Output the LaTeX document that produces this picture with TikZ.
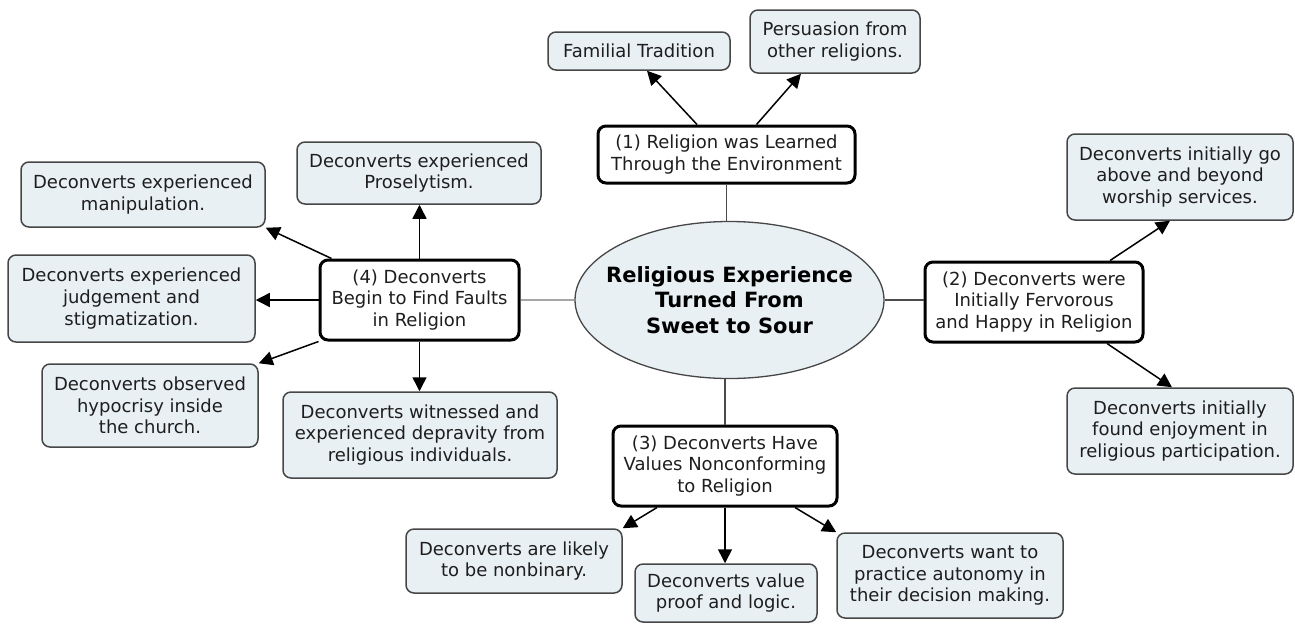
\documentclass[tikz,border=0pt]{standalone}
\usepackage{fontspec}
\setmainfont{DejaVu Sans}
\usetikzlibrary{arrows.meta,shapes.geometric}
\definecolor{boxfill}{RGB}{232,240,244}
\definecolor{boxline}{RGB}{70,70,70}
\definecolor{txt}{RGB}{30,30,30}
\definecolor{linkgray}{RGB}{75,75,75}
\tikzset{
  leaf/.style={draw=boxline, line width=1.5pt, fill=boxfill, rounded corners=8pt,
    align=center, inner sep=0pt, text=txt, font=\fontsize{18}{21.7}\selectfont},
  topic/.style={draw=black, line width=3pt, fill=white, rounded corners=8pt,
    align=center, inner sep=0pt, text=txt, font=\fontsize{18}{21.7}\selectfont},
  core/.style={ellipse, draw=boxline, line width=1.3pt, fill=boxfill, inner sep=0pt,
    minimum width=309pt, minimum height=157pt},
  coretext/.style={align=center, text=black, inner sep=0pt,
    font=\fontsize{21}{25.5}\selectfont\bfseries},
  arr/.style={line width=1.5pt, draw=black, -{Triangle[length=14pt,width=14pt]}},
  link/.style={line width=1.5pt, draw=linkgray},
}
\begin{document}
\begin{tikzpicture}[x=1pt,y=-1pt]
\useasboundingbox (0,0) rectangle (1295,625);
% centre
\node[core] (ell) at (729.5,300) {};
\node[coretext] (elltxt) at (ell.center) {Religious Experience\\Turned From\\Sweet to Sour};
% (1)
\node[topic, minimum width=257pt, minimum height=57pt] (b1) at (726.5,154.5) {(1) Religion was Learned\\Through the Environment};
\node[leaf, minimum width=182pt, minimum height=38pt] (fam) at (639,51) {Familial Tradition};
\node[leaf, minimum width=170pt, minimum height=63pt] (pers) at (835,41.5) {Persuasion from\\other religions.};
% (2)
\node[topic, minimum width=218pt, minimum height=80pt] (b2) at (1034,302) {(2) Deconverts were\\Initially Fervorous\\and Happy in Religion};
\node[leaf, minimum width=226pt, minimum height=86pt] (above) at (1180,177) {Deconverts initially go\\above and beyond\\worship services.};
\node[leaf, minimum width=226pt, minimum height=86pt] (enjoy) at (1180,431) {Deconverts initially\\found enjoyment in\\religious participation.};
% (3)
\node[topic, minimum width=224pt, minimum height=80pt] (b3) at (725,466) {(3) Deconverts Have\\Values Nonconforming\\to Religion};
\node[leaf, minimum width=216pt, minimum height=64pt] (nonb) at (514,561) {Deconverts are likely\\to be nonbinary.};
\node[leaf, minimum width=182pt, minimum height=58pt] (proof) at (726,593) {Deconverts value\\proof and logic.};
\node[leaf, minimum width=226pt, minimum height=85pt] (auto) at (950,575.5) {Deconverts want to\\practice autonomy in\\their decision making.};
% (4)
\node[topic, minimum width=199pt, minimum height=80pt] (b4) at (419.5,300) {(4) Deconverts\\Begin to Find Faults\\in Religion};
\node[leaf, minimum width=244pt, minimum height=62pt] (pros) at (419,173) {Deconverts experienced\\Proselytism.};
\node[leaf, minimum width=244pt, minimum height=65pt] (man) at (143,194.5) {Deconverts experienced\\manipulation.};
\node[leaf, minimum width=247pt, minimum height=87pt] (judg) at (131.5,298.5) {Deconverts experienced\\judgement and\\stigmatization.};
\node[leaf, minimum width=216pt, minimum height=83pt] (hyp) at (150,405.5) {Deconverts observed\\hypocrisy inside\\the church.};
\node[leaf, minimum width=274pt, minimum height=86pt] (dep) at (420,435) {Deconverts witnessed and\\experienced depravity from\\religious individuals.};
% links from centre
\draw[link] (b1.south) -- (b1.south |- ell.north);
\draw[link] (ell.east) -- (ell.east -| b2.west);
\draw[link] (b3.north) -- (b3.north |- ell.south);
\draw[link, draw=gray!70] (ell.west) -- (ell.west -| b4.east);
% arrows
\draw[arr] ([xshift=-29.5pt]b1.north) -- ([xshift=8pt]fam.south);
\draw[arr] ([xshift=30pt]b1.north) -- ([xshift=-34pt]pers.south);
\draw[arr] ([xshift=76pt]b2.north) -- ([xshift=-10pt]above.south);
\draw[arr] ([xshift=73pt]b2.south) -- ([xshift=-8pt]enjoy.north);
\draw[arr] ([xshift=-68pt]b3.south) -- (nonb.north east);
\draw[arr] (b3.south) -- (b3.south |- proof.north);
\draw[arr] ([xshift=70pt]b3.south) -- (auto.north west);
\draw[arr] (b4.north) -- (b4.north |- pros.south);
\draw[arr] ([xshift=13pt]b4.north west) -- (man.south east);
\draw[arr] (b4.west) -- (b4.west -| judg.east);
\draw[arr] (b4.south west) -- (hyp.north east);
\draw[arr] (b4.south) -- (b4.south |- dep.north);
\end{tikzpicture}
\end{document}
